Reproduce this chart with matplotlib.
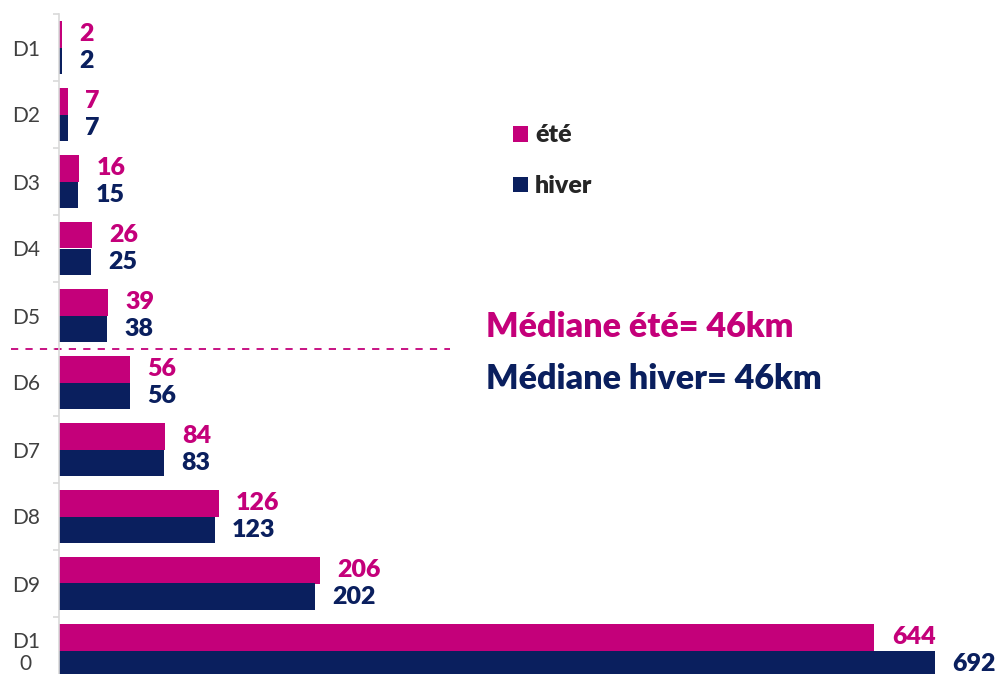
import matplotlib.pyplot as plt
import numpy as np

plt.rcParams["font.family"] = ["Lato", "DejaVu Sans"]

categories = ["D1", "D2", "D3", "D4", "D5", "D6", "D7", "D8", "D9", "D1\n0"]
ete = [2, 7, 16, 26, 39, 56, 84, 126, 206, 644]
hiver = [2, 7, 15, 25, 38, 56, 83, 123, 202, 692]
median_ete = 46
median_hiver = 46

c_ete = "#C4007A"
c_hiver = "#0A1F5E"

fig = plt.figure(figsize=(9.96, 6.74), dpi=100)
ax = fig.add_axes([59 / 996, -10 / 674, 937 / 996, 670 / 674])

y = np.arange(len(categories))
h = 0.4
ax.barh(y - h / 2, ete, height=h, color=c_ete, label="été")
ax.barh(y + h / 2, hiver, height=h, color=c_hiver, label="hiver")

ax.set_xlim(0, 740)
ax.set_ylim(len(categories) - 0.5, -0.5)

# labels des valeurs
off = 12.5
for i in range(len(categories)):
    ax.annotate(str(ete[i]), (ete[i], y[i] - h / 2), xytext=(off, 0),
                textcoords="offset points", va="center", ha="left",
                fontsize=18, fontweight="heavy", color=c_ete)
    ax.annotate(str(hiver[i]), (hiver[i], y[i] + h / 2), xytext=(off, 0),
                textcoords="offset points", va="center", ha="left",
                fontsize=18, fontweight="heavy", color=c_hiver)

# axes
for s in ["top", "right", "bottom"]:
    ax.spines[s].set_visible(False)
ax.spines["left"].set_color("#d9d9d9")
ax.spines["left"].set_linewidth(1.2)
ax.set_xticks([])
ax.set_yticks(np.arange(-0.5, len(categories), 1.0))
ax.set_yticklabels([])
ax.tick_params(axis="y", which="major", length=4, color="#d9d9d9", width=1.2)
ax.set_yticks(y, minor=True)
ax.set_yticklabels(categories, minor=True, fontsize=15, color="#404040",
                   linespacing=1.1)
ax.tick_params(axis="y", which="minor", length=0, pad=24)
for t in ax.get_yticklabels(minor=True):
    t.set_horizontalalignment("center")

# séparation médiane
ax.plot([-38, 309], [4.5, 4.5], color=c_ete, linestyle=(0, (4, 4)),
        linewidth=1.3, clip_on=False)

fig.text(486 / 996, 1 - 327 / 674, f"Médiane été= {median_ete}km",
         color=c_ete, fontsize=24.5, fontweight="heavy", va="center")
fig.text(486 / 996, 1 - 379 / 674, f"Médiane hiver= {median_hiver}km",
         color=c_hiver, fontsize=24.5, fontweight="heavy", va="center")

ax.legend(loc="upper left", bbox_to_anchor=(490 / 996, 1 - 102 / 674),
          bbox_transform=fig.transFigure, frameon=False,
          handlelength=0.6, handleheight=0.6, handletextpad=0.3,
          labelspacing=1.15,
          prop={"size": 18, "weight": "heavy"}, labelcolor="#262626")

fig.savefig("out.png", dpi=100)
